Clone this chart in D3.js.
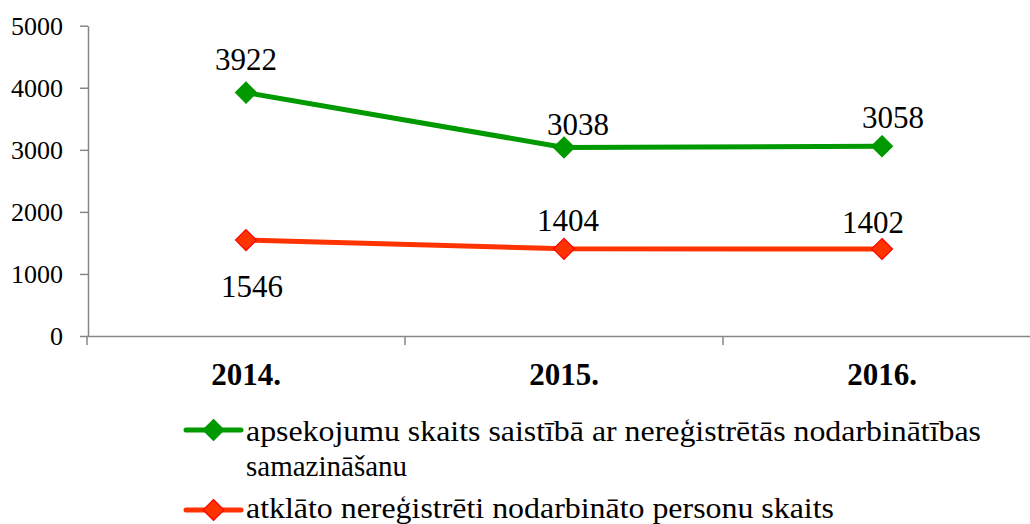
<!DOCTYPE html>
<html><head><meta charset="utf-8">
<script src="https://cdn.jsdelivr.net/npm/d3@7"></script>
<style>html,body{margin:0;padding:0;background:#fff;}svg{display:block;}</style>
</head><body>
<svg id="c" width="1030" height="524"></svg>
<script>
const categories = ["2014.", "2015.", "2016."];
const seriesNames = ["apsekojumu skaits saistībā ar nereģistrētās nodarbinātības samazināšanu", "atklāto nereģistrēti nodarbināto personu skaits"];
const inspections = [3922, 3038, 3058];
const persons = [1546, 1404, 1402];
const yTicks = [0, 1000, 2000, 3000, 4000, 5000];

const svg = d3.select("#c");
const FONT = '"Liberation Serif"';
const BASE = 24; // render at 24px and scale up
const axisColor = "#878787";

function serifText(sel, x, y, size) {
  return sel.attr("x", 0).attr("y", 0)
    .attr("transform", (d, i) => `translate(${typeof x === "function" ? x(d, i) : x},${typeof y === "function" ? y(d, i) : y}) scale(${size / BASE})`)
    .style("font-family", FONT).style("font-size", BASE + "px");
}

const x = d3.scaleBand().domain(categories).range([87, 1041]);
const y = d3.scaleLinear().domain([0, 5000]).range([336, 25.7]);
const cx = d => x(d) + x.bandwidth() / 2;

// Y axis
const yAxis = svg.append("g").attr("transform", "translate(88,0)")
  .call(d3.axisLeft(y).tickValues(yTicks).tickFormat(d3.format("d")).tickSize(8).tickPadding(17).tickSizeOuter(0));
yAxis.select(".domain").attr("stroke", axisColor).attr("stroke-width", 1.5);
yAxis.selectAll(".tick line").attr("stroke", axisColor).attr("stroke-width", 1.5);
serifText(yAxis.selectAll(".tick text"), -25, 0, 26).attr("fill", "#000").attr("dy", "0.34em");

// X axis
const xAxis = svg.append("g").attr("transform", "translate(0,336)")
  .call(d3.axisBottom(x).tickValues([]).tickSizeOuter(0));
xAxis.select(".domain").attr("stroke", axisColor).attr("stroke-width", 1.5);
const bounds = categories.map(c => x(c));
svg.append("g").selectAll("line").data(bounds).join("line")
  .attr("x1", d => d).attr("x2", d => d).attr("y1", 336).attr("y2", 345)
  .attr("stroke", axisColor).attr("stroke-width", 1.5);
svg.append("g").selectAll("text").data(categories).join("text")
  .attr("x", d => cx(d)).attr("y", 385).attr("text-anchor", "middle")
  .style("font-family", FONT).style("font-size", "31px").style("font-weight", "bold").text(d => d);

const series = [
  {values: inspections, stroke: "#009900", fill: "#009900", mstroke: "#009900",
   dx: [0, 14, 11], dy: [-23, -12, -18]},
  {values: persons, stroke: "#ff3300", fill: "#ff3300", mstroke: "#ff0000",
   dx: [6, 4, -9], dy: [57, -18, -16]}
];

const line = d3.line().x((d, i) => cx(categories[i])).y(d => y(d));
const diamond = d3.symbol().type(d3.symbolDiamond2).size(280);

series.forEach(s => {
  svg.append("path").datum(s.values).attr("d", line)
    .attr("fill", "none").attr("stroke", s.stroke).attr("stroke-width", 5);
  svg.append("g").selectAll("path").data(s.values).join("path")
    .attr("d", diamond)
    .attr("transform", (d, i) => `translate(${cx(categories[i])},${y(d)})`)
    .attr("fill", s.fill).attr("stroke", s.mstroke).attr("stroke-width", 1.2);
  const labels = svg.append("g").selectAll("text").data(s.values).join("text")
    .attr("text-anchor", "middle").text(d => d);
  serifText(labels, (d, i) => cx(categories[i]) + s.dx[i], (d, i) => y(d) + s.dy[i], 31);
});

// Legend
const legend = [
  {lines: ["apsekojumu skaits saistībā ar nereģistrētās nodarbinātības", "samazināšanu"], y: 430, base: [441, 476], s: series[0], widths: [735, null]},
  {lines: ["atklāto nereģistrēti nodarbināto personu skaits"], y: 510, base: [518], s: series[1], widths: [588]}
];
const legendSize = 29;
legend.forEach(l => {
  const g = svg.append("g");
  g.append("line").attr("x1", 186).attr("x2", 241).attr("y1", l.y).attr("y2", l.y)
    .attr("stroke", l.s.stroke).attr("stroke-width", 5).attr("stroke-linecap", "round");
  g.append("path").attr("d", diamond).attr("transform", `translate(213.5,${l.y})`)
    .attr("fill", l.s.fill).attr("stroke", l.s.mstroke).attr("stroke-width", 1.2);
  l.lines.forEach((t, i) => {
    const tx = serifText(g.append("text").text(t), 246, l.base[i], legendSize);
    if (l.widths[i]) tx.attr("textLength", l.widths[i] * BASE / legendSize).attr("lengthAdjust", "spacingAndGlyphs");
  });
});
</script>
</body></html>
